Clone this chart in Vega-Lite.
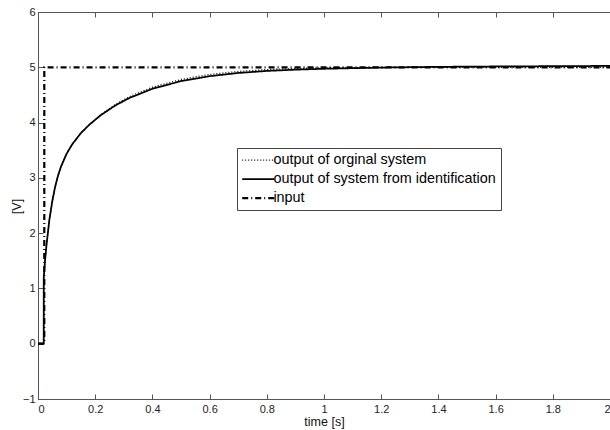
{
  "$schema": "https://vega.github.io/schema/vega-lite/v6.json",
  "width": 572,
  "height": 387,
  "autosize": {"type": "none"},
  "padding": {"left": 38, "top": 12, "right": 0, "bottom": 31},
  "background": "white",
  "config": {
    "view": {"stroke": "#555", "strokeWidth": 1},
    "font": "Liberation Sans",
    "axis": {
      "domainColor": "#555",
      "tickColor": "#555",
      "labelColor": "#222",
      "labelFont": "Liberation Sans",
      "labelFontSize": 11,
      "titleFont": "Liberation Sans",
      "titleFontSize": 12.5,
      "titleFontWeight": "normal",
      "titleColor": "#111",
      "grid": false,
      "tickSize": -5
    }
  },
  "data": {
    "values": [
      {"s": "output of orginal system", "i": 0, "t": 0, "v": 0},
      {"s": "output of orginal system", "i": 1, "t": 0.02, "v": 0},
      {"s": "output of orginal system", "i": 2, "t": 0.0201, "v": 1.2},
      {"s": "output of orginal system", "i": 3, "t": 0.025, "v": 1.53},
      {"s": "output of orginal system", "i": 4, "t": 0.03, "v": 1.8},
      {"s": "output of orginal system", "i": 5, "t": 0.04, "v": 2.25},
      {"s": "output of orginal system", "i": 6, "t": 0.05, "v": 2.58},
      {"s": "output of orginal system", "i": 7, "t": 0.06, "v": 2.84},
      {"s": "output of orginal system", "i": 8, "t": 0.07, "v": 3.04},
      {"s": "output of orginal system", "i": 9, "t": 0.08, "v": 3.2},
      {"s": "output of orginal system", "i": 10, "t": 0.1, "v": 3.44},
      {"s": "output of orginal system", "i": 11, "t": 0.12, "v": 3.61},
      {"s": "output of orginal system", "i": 12, "t": 0.15, "v": 3.81},
      {"s": "output of orginal system", "i": 13, "t": 0.18, "v": 3.965},
      {"s": "output of orginal system", "i": 14, "t": 0.22, "v": 4.14},
      {"s": "output of orginal system", "i": 15, "t": 0.27, "v": 4.325},
      {"s": "output of orginal system", "i": 16, "t": 0.32, "v": 4.47},
      {"s": "output of orginal system", "i": 17, "t": 0.4, "v": 4.64},
      {"s": "output of orginal system", "i": 18, "t": 0.5, "v": 4.78},
      {"s": "output of orginal system", "i": 19, "t": 0.6, "v": 4.87},
      {"s": "output of orginal system", "i": 20, "t": 0.7, "v": 4.925},
      {"s": "output of orginal system", "i": 21, "t": 0.8, "v": 4.958},
      {"s": "output of orginal system", "i": 22, "t": 0.9, "v": 4.978},
      {"s": "output of orginal system", "i": 23, "t": 1.0, "v": 4.99},
      {"s": "output of orginal system", "i": 24, "t": 1.2, "v": 4.998},
      {"s": "output of orginal system", "i": 25, "t": 1.4, "v": 5.0},
      {"s": "output of orginal system", "i": 26, "t": 2.0, "v": 5.0},
      {"s": "output of system from identification", "i": 0, "t": 0, "v": 0},
      {"s": "output of system from identification", "i": 1, "t": 0.02, "v": 0},
      {"s": "output of system from identification", "i": 2, "t": 0.0201, "v": 1.2},
      {"s": "output of system from identification", "i": 3, "t": 0.025, "v": 1.53},
      {"s": "output of system from identification", "i": 4, "t": 0.03, "v": 1.8},
      {"s": "output of system from identification", "i": 5, "t": 0.04, "v": 2.25},
      {"s": "output of system from identification", "i": 6, "t": 0.05, "v": 2.58},
      {"s": "output of system from identification", "i": 7, "t": 0.06, "v": 2.84},
      {"s": "output of system from identification", "i": 8, "t": 0.07, "v": 3.04},
      {"s": "output of system from identification", "i": 9, "t": 0.08, "v": 3.2},
      {"s": "output of system from identification", "i": 10, "t": 0.1, "v": 3.435},
      {"s": "output of system from identification", "i": 11, "t": 0.12, "v": 3.61},
      {"s": "output of system from identification", "i": 12, "t": 0.15, "v": 3.81},
      {"s": "output of system from identification", "i": 13, "t": 0.18, "v": 3.964},
      {"s": "output of system from identification", "i": 14, "t": 0.22, "v": 4.136},
      {"s": "output of system from identification", "i": 15, "t": 0.27, "v": 4.309},
      {"s": "output of system from identification", "i": 16, "t": 0.32, "v": 4.446},
      {"s": "output of system from identification", "i": 17, "t": 0.4, "v": 4.611},
      {"s": "output of system from identification", "i": 18, "t": 0.5, "v": 4.75},
      {"s": "output of system from identification", "i": 19, "t": 0.6, "v": 4.839},
      {"s": "output of system from identification", "i": 20, "t": 0.7, "v": 4.897},
      {"s": "output of system from identification", "i": 21, "t": 0.8, "v": 4.934},
      {"s": "output of system from identification", "i": 22, "t": 0.9, "v": 4.957},
      {"s": "output of system from identification", "i": 23, "t": 1.0, "v": 4.973},
      {"s": "output of system from identification", "i": 24, "t": 1.2, "v": 4.995},
      {"s": "output of system from identification", "i": 25, "t": 1.4, "v": 5.008},
      {"s": "output of system from identification", "i": 26, "t": 1.6, "v": 5.015},
      {"s": "output of system from identification", "i": 27, "t": 1.8, "v": 5.02},
      {"s": "output of system from identification", "i": 28, "t": 2.0, "v": 5.025},
      {"s": "input", "i": 0, "t": 0, "v": 0},
      {"s": "input", "i": 1, "t": 0.022, "v": 0},
      {"s": "input", "i": 2, "t": 0.022, "v": 5.0},
      {"s": "input", "i": 3, "t": 2.0, "v": 5.0}
    ]
  },
  "layer": [
    {
      "mark": {"type": "line", "color": "black", "clip": true},
      "encoding": {
        "x": {
          "field": "t", "type": "quantitative",
          "scale": {"domain": [0, 2], "nice": false, "zero": false},
          "axis": {"values": [0, 0.2, 0.4, 0.6, 0.8, 1, 1.2, 1.4, 1.6, 1.8, 2], "format": "~g", "title": "time [s]", "labelPadding": 9, "titlePadding": 1}
        },
        "y": {
          "field": "v", "type": "quantitative",
          "scale": {"domain": [-1, 6], "nice": false, "zero": false},
          "axis": {"values": [-1, 0, 1, 2, 3, 4, 5, 6], "title": "[V]", "labelPadding": 8, "titleX": -15, "titleY": 194}
        },
        "order": {"field": "i", "type": "quantitative"},
        "strokeDash": {
          "field": "s", "type": "nominal",
          "scale": {
            "domain": ["output of orginal system", "output of system from identification", "input"],
            "range": [[1, 2], [1, 0], [6, 3, 1, 3]]
          },
          "legend": {
            "title": null,
            "orient": "none",
            "legendX": 199,
            "legendY": 136,
            "direction": "vertical",
            "strokeColor": "#444",
            "fillColor": "white",
            "padding": 5,
            "symbolType": "M-3.2,0H3.2",
            "symbolSize": 100,
            "symbolOffset": 9,
            "symbolFillColor": "transparent",
            "symbolStrokeColor": "black",
            "labelFont": "Liberation Sans",
            "labelFontSize": 14.4,
            "labelColor": "black",
            "labelOffset": 8,
            "rowPadding": 4,
            "labelLimit": 400
          }
        },
        "strokeWidth": {
          "field": "s", "type": "nominal",
          "scale": {
            "domain": ["output of orginal system", "output of system from identification", "input"],
            "range": [1.3, 2.2, 1.6]
          },
          "legend": null
        }
      }
    },
    {
      "mark": {"type": "rule", "opacity": 0},
      "encoding": {
        "x": {"datum": 0, "type": "quantitative", "axis": {"orient": "top", "values": [0, 0.2, 0.4, 0.6, 0.8, 1, 1.2, 1.4, 1.6, 1.8, 2], "labels": false, "title": null, "domain": false}}
      }
    }
  ],
  "resolve": {"axis": {"x": "independent"}}
}
